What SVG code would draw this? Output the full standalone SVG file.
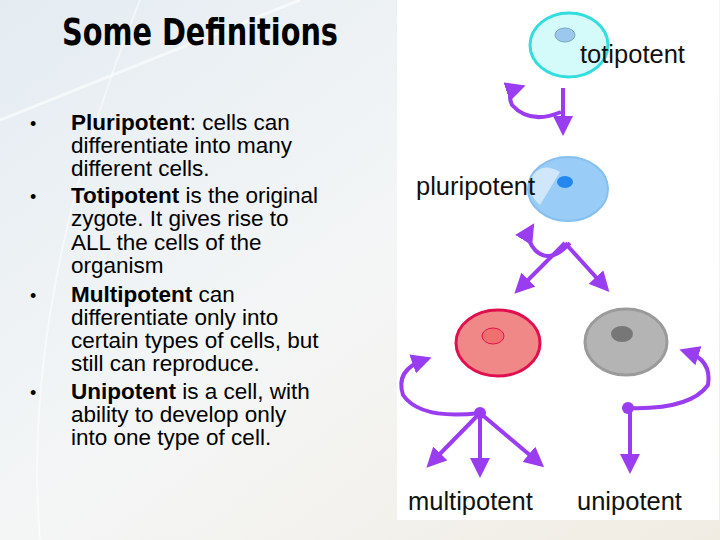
<svg xmlns="http://www.w3.org/2000/svg" width="720" height="540" viewBox="0 0 720 540">
<defs>
<linearGradient id="bg" x1="0" y1="0" x2="1" y2="1">
<stop offset="0" stop-color="#e4ecf2"/><stop offset="0.5" stop-color="#f4f6f6"/><stop offset="1" stop-color="#f1ece2"/>
</linearGradient>
<marker id="ah" viewBox="0 0 10 10" refX="6" refY="5" markerWidth="5" markerHeight="5" orient="auto" markerUnits="strokeWidth">
<path d="M0,0 L10,5 L0,10 Z" fill="#9a3cf0"/>
</marker>
<style>
.t{font-family:"Liberation Sans",Arial,sans-serif;font-size:22.5px;fill:#000}
.lb{font-family:"Liberation Sans",Arial,sans-serif;font-size:25.5px;fill:#111}
.c{fill:none;stroke:#9a3cf0;stroke-width:4;marker-end:url(#ah)}
.hub{fill:#9a3cf0}
</style>
</defs>
<rect width="720" height="540" fill="url(#bg)"/>
<path d="M0,120 Q150,60 300,0" fill="none" stroke="#fff" stroke-width="3" opacity="0.6"/>
<path d="M40,540 Q20,300 140,0" fill="none" stroke="#fff" stroke-width="2" opacity="0.5"/>
<rect x="397" y="0" width="322" height="520" fill="#fff"/>
<text x="62" y="45" font-family="DejaVu Sans Condensed,DejaVu Sans,sans-serif" font-weight="bold" font-stretch="condensed" font-size="38" textLength="276" lengthAdjust="spacingAndGlyphs">Some Definitions</text>
<g class="t">
<text x="30" y="130" font-size="18">•</text><text x="71" y="130"><tspan font-weight="bold">Pluripotent</tspan>: cells can</text>
<text x="71" y="153">differentiate into many</text>
<text x="71" y="176">different cells.</text>
<text x="30" y="203" font-size="18">•</text><text x="71" y="203"><tspan font-weight="bold">Totipotent</tspan> is the original</text>
<text x="71" y="226">zygote. It gives rise to</text>
<text x="71" y="250">ALL the cells of the</text>
<text x="71" y="273">organism</text>
<text x="30" y="302" font-size="18">•</text><text x="71" y="302"><tspan font-weight="bold">Multipotent</tspan> can</text>
<text x="71" y="325">differentiate only into</text>
<text x="71" y="348">certain types of cells, but</text>
<text x="71" y="371">still can reproduce.</text>
<text x="30" y="399" font-size="18">•</text><text x="71" y="399"><tspan font-weight="bold">Unipotent</tspan> is a cell, with</text>
<text x="71" y="422">ability to develop only</text>
<text x="71" y="445">into one type of cell.</text>
</g>
<g id="totipotent">
<ellipse cx="569" cy="45" rx="39" ry="32" fill="#d4fafa" stroke="#33dddd" stroke-width="3"/>
<ellipse cx="565" cy="35" rx="10" ry="7" fill="#9cc8ee" stroke="#7ab" stroke-width="1"/>
<text class="lb" x="580" y="63">totipotent</text>
</g>
<g id="pluripotent">
<ellipse cx="568" cy="189" rx="40" ry="32" fill="#99ccf7" stroke="#86c0f0" stroke-width="2"/>
<path d="M560,172 L540,205 Q528,195 530,180 Q540,160 560,172 Z" fill="#d0e6fa"/>
<ellipse cx="565" cy="182" rx="8" ry="6" fill="#2288ee"/>
<text class="lb" x="416" y="195">pluripotent</text>
</g>
<g id="multipotent">
<ellipse cx="498" cy="343" rx="42" ry="33" fill="#f08888" stroke="#e01050" stroke-width="3"/>
<ellipse cx="493" cy="336" rx="11" ry="8" fill="#f07070" stroke="#e01050" stroke-width="1"/>
<text class="lb" x="408" y="510">multipotent</text>
</g>
<g id="unipotent">
<ellipse cx="626" cy="342" rx="41" ry="33" fill="#b4b4b4" stroke="#9a9a9a" stroke-width="3"/>
<ellipse cx="622" cy="334" rx="11" ry="8" fill="#777"/>
<text class="lb" x="577" y="510">unipotent</text>
</g>
<g id="connectors">
<path class="c" d="M563,88 L563,128"/>
<path class="c" d="M561,112 Q530,125 512,105 Q506,92 518,88"/>
<path class="c" d="M570,243 Q550,265 535,250 Q525,238 530,230"/>
<path class="c" d="M565,243 L520,288"/>
<path class="c" d="M565,243 L604,286"/>
<circle class="hub" cx="480" cy="413" r="6"/>
<path class="c" d="M480,413 Q420,420 403,395 Q395,370 424,360"/>
<path class="c" d="M480,413 L432,462"/>
<path class="c" d="M480,413 L480,470"/>
<path class="c" d="M480,413 L538,462"/>
<circle class="hub" cx="628" cy="408" r="6"/>
<path class="c" d="M628,408 Q690,410 708,385 Q712,360 687,352"/>
<path class="c" d="M630,408 L630,466"/>
</g>
</svg>
